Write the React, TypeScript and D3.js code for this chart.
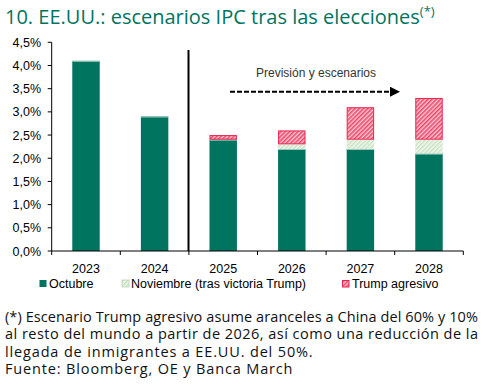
import React from "react";
import * as d3 from "d3";

const years = ["2023", "2024", "2025", "2026", "2027", "2028"];
const octubre = [4.1, 2.9, 2.4, 2.2, 2.2, 2.1];
const noviembre = [0, 0, 0, 0.1, 0.2, 0.3];
const trumpAgresivo = [0, 0, 0.1, 0.3, 0.7, 0.9];
const yTicks = [0, 0.5, 1, 1.5, 2, 2.5, 3, 3.5, 4, 4.5];
const seriesNames = ["Octubre", "Noviembre (tras victoria Trump)", "Trump agresivo"];
const footLines = [
  "(*) Escenario Trump agresivo asume aranceles a China del 60% y 10%",
  "al resto del mundo a partir de 2026, así como una reducción de la",
  "llegada de inmigrantes a EE.UU. del 50%.",
  "Fuente: Bloomberg, OE y Banca March",
];

const TEAL = "#00745F";
const RED = "#E8264F";
const LGREEN = "#C9E2C3";

export default function App() {
  const W = 483, H = 386;
  const x0 = 51.7, x1 = 463.3, yTop = 42.3, yBot = 251;
  const x = d3.scaleBand().domain(years).range([x0, x1]).paddingInner(0.6).paddingOuter(0.3);
  const y = d3.scaleLinear().domain([0, 4.5]).range([yBot, yTop]);
  const bw = x.bandwidth();
  const fmt = (v: number) => d3.format(".1f")(v).replace(".", ",") + "%";
  const stacks = years.map((yr, i) => {
    const a = octubre[i], b = a + noviembre[i], c = b + trumpAgresivo[i];
    return { yr, a, b, c };
  });
  const step = (x1 - x0) / years.length;
  const sans = "'Liberation Sans', Arial, sans-serif";
  const title = "'Open Sans', sans-serif";
  return (
    <svg width={W} height={H} style={{ position: "absolute", left: 0, top: 0 }} xmlns="http://www.w3.org/2000/svg">
      <defs>
        <pattern id="hg" patternUnits="userSpaceOnUse" width="3" height="3" patternTransform="rotate(45)">
          <rect width="3" height="3" fill="#F1F7EE" />
          <rect width="1.5" height="3" fill={LGREEN} />
        </pattern>
        <pattern id="hr" patternUnits="userSpaceOnUse" width="3" height="3" patternTransform="rotate(45)">
          <rect width="3" height="3" fill="#F9C9D3" />
          <rect width="1.6" height="3" fill="#EC4A6C" />
        </pattern>
        <marker id="arr" viewBox="0 0 10 10" refX="5" refY="5" markerWidth="5" markerHeight="5" orient="auto">
          <path d="M0,0 L10,5 L0,10 z" fill="#000" />
        </marker>
      </defs>
      <rect width={W} height={H} fill="#fff" />
      <text x={5} y={24} fontFamily={title} fontSize={20} fill={TEAL}>
        10. EE.UU.: escenarios IPC tras las elecciones
        <tspan dy={-8} fontSize={13}>(*)</tspan>
      </text>
      {/* y axis */}
      <line x1={x0} x2={x0} y1={yTop} y2={yBot} stroke="#000" strokeWidth={1} />
      {yTicks.map((t) => (
        <g key={t}>
          <line x1={x0 - 4} x2={x0} y1={y(t)} y2={y(t)} stroke="#000" />
          <text x={41} y={y(t) + 4.5} textAnchor="end" fontFamily={sans} fontSize={12.5} fill="#000">
            {fmt(t)}
          </text>
        </g>
      ))}
      {/* bars */}
      {stacks.map((s) => {
        const bx = x(s.yr)!;
        return (
          <g key={s.yr}>
            <rect x={bx} y={y(s.a)} width={bw} height={y(0) - y(s.a)} fill={TEAL} />
            <line x1={bx} x2={bx + bw} y1={y(s.a) + 0.5} y2={y(s.a) + 0.5} stroke="#9CC9BE" strokeWidth={1} />
            {s.b > s.a && (
              <rect x={bx} y={y(s.b)} width={bw} height={y(s.a) - y(s.b)} fill="url(#hg)" />
            )}
            {s.c > s.b && (
              <rect x={bx + 0.5} y={y(s.c) + 0.5} width={bw - 1} height={y(s.b) - y(s.c) - 1} fill="url(#hr)" stroke={RED} strokeWidth={1} />
            )}
          </g>
        );
      })}
      {/* x axis */}
      <line x1={x0} x2={x1} y1={yBot} y2={yBot} stroke="#000" />
      {d3.range(years.length + 1).map((i) => (
        <line key={i} x1={x0 + i * step} x2={x0 + i * step} y1={yBot} y2={yBot + 4} stroke="#000" />
      ))}
      {years.map((yr) => (
        <text key={yr} x={x(yr)! + bw / 2} y={273} textAnchor="middle" fontFamily={sans} fontSize={12.5} fill="#000">
          {yr}
        </text>
      ))}
      {/* separator */}
      <line x1={188.5} x2={188.5} y1={50} y2={yBot} stroke="#000" strokeWidth={2} />
      {/* annotation */}
      <text x={316} y={77} textAnchor="middle" fontFamily={sans} fontSize={12} fill="#333">
        Previsión y escenarios
      </text>
      <line x1={230} x2={395} y1={91.7} y2={91.7} stroke="#000" strokeWidth={2} strokeDasharray="5,2" markerEnd="url(#arr)" />
      {/* legend */}
      <g fontFamily={sans} fontSize={12.5} fill="#000">
        <rect x={39.5} y={280} width={7} height={7} fill={TEAL} />
        <text x={49} y={288}>{seriesNames[0]}</text>
        <rect x={122} y={280} width={7} height={7} fill="url(#hg)" stroke="#B9D8B1" strokeWidth={0.8} />
        <text x={131} y={288}>{seriesNames[1]}</text>
        <rect x={342.5} y={280.5} width={6.5} height={6.5} fill="url(#hr)" stroke={RED} strokeWidth={1} />
        <text x={352} y={288}>{seriesNames[2]}</text>
      </g>
      {/* footnote */}
      <g fontFamily={title} fontSize={14.5} fill="#111">
        {footLines.map((l, i) => (
          <text key={i} x={5} y={322 + i * 17.3}
            {...(i < 2 ? { textLength: 473, lengthAdjust: "spacing" } : { letterSpacing: 0.85 })}>
            {l}
          </text>
        ))}
      </g>
    </svg>
  );
}
